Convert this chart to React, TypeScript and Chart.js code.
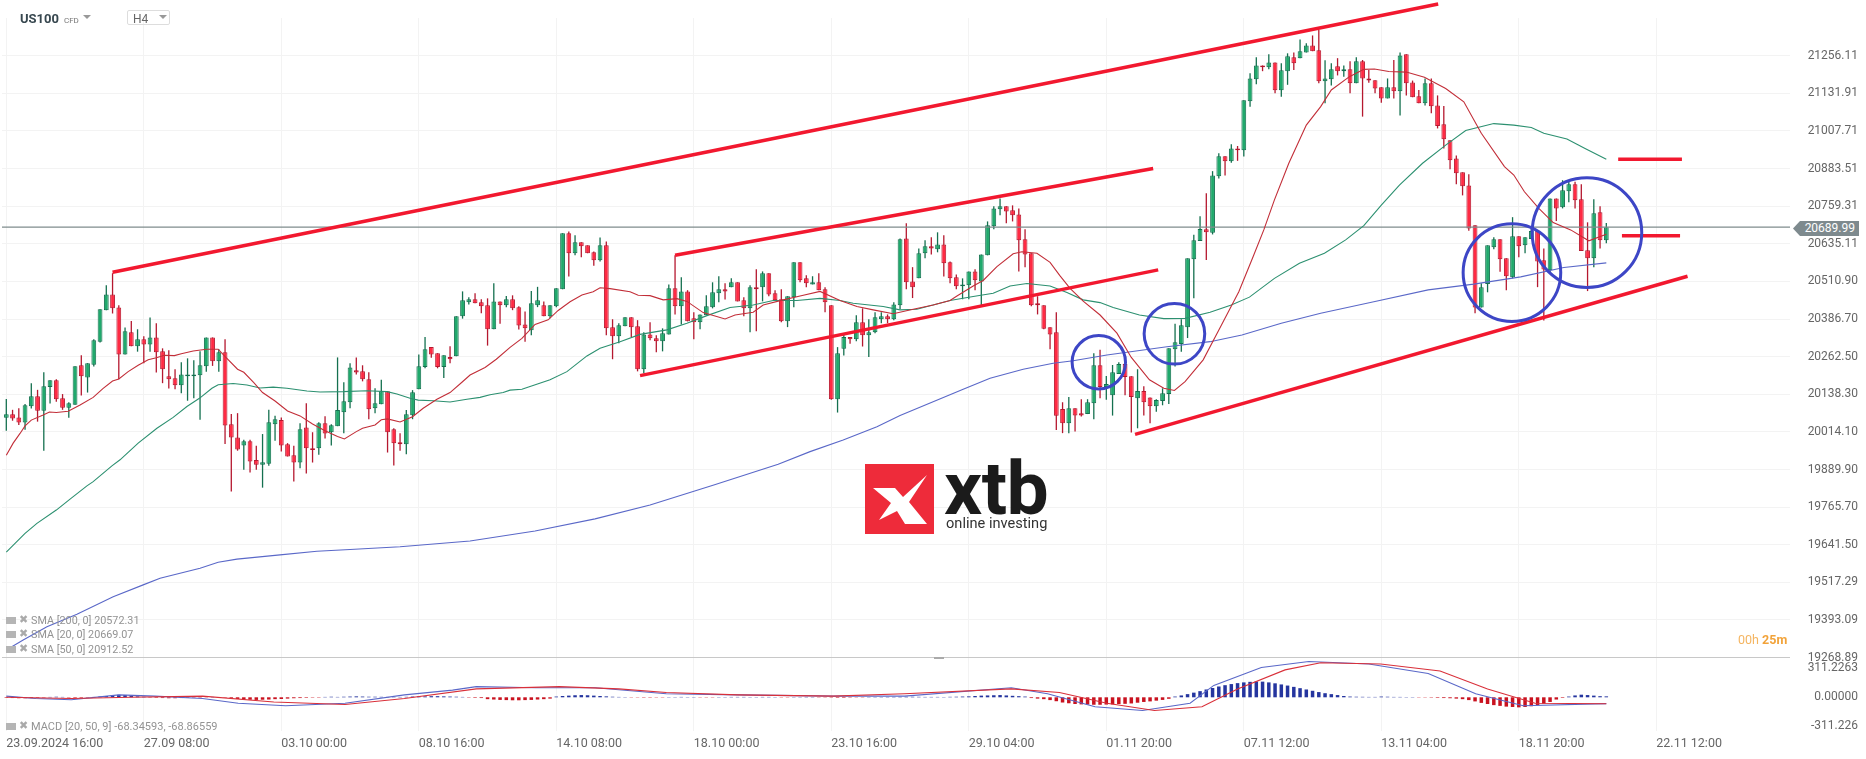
import { useEffect, useRef } from "react"
import Chart from "chart.js/auto"

// OHLC per 4h candle
const candleOpen = [
  20061,20072,20062,20045,20099,20132,20084,20162,20185,20125,20094,20104,20234,20194,20236,20312,20416,20468,20425,20270,
  20343,20297,20320,20303,20326,20280,20198,20191,20168,20198,20198,20201,20231,20326,20247,20277,20039,19996,19969,19983,
  19921,19906,19909,20039,20053,19973,19937,19913,20029,19960,19960,20043,20013,20033,20079,20112,20218,20214,20188,20092,
  20105,20148,20023,19980,19973,20069,20155,20228,20294,20274,20228,20261,20264,20396,20442,20452,20442,20432,20353,20445,
  20432,20452,20426,20369,20350,20432,20432,20396,20429,20485,20670,20604,20640,20630,20607,20581,20630,20360,20330,20363,
  20393,20363,20221,20336,20323,20313,20336,20488,20429,20478,20389,20376,20399,20426,20472,20485,20492,20508,20449,20422,
  20492,20492,20538,20472,20452,20379,20459,20574,20521,20501,20508,20485,20432,20122,20289,20327,20320,20376,20333,20343,
  20386,20396,20386,20432,20653,20511,20521,20604,20627,20617,20633,20574,20525,20495,20498,20544,20511,20597,20693,20749,
  20759,20746,20732,20650,20604,20439,20432,20360,20343,20090,20043,20092,20076,20073,20109,20234,20162,20135,20205,20238,
  20198,20125,20149,20128,20099,20116,20139,20287,20304,20360,20584,20644,20683,20672,20858,20924,20908,20950,20944,21106,
  21178,21224,21218,21234,21142,21205,21251,21248,21267,21290,21274,21172,21178,21221,21205,21211,21165,21238,21181,21175,
  21152,21115,21152,21139,21261,21168,21122,21099,21165,21092,21030,20977,20917,20871,20828,20696,20425,20502,20624,20650,
  20587,20525,20660,20630,20651,20677,20581,20548,20785,20756,20809,20832,20782,20614,20587,20739,20647,
]
const candleHigh = [
  20123,20087,20092,20106,20175,20153,20211,20185,20188,20139,20112,20231,20267,20241,20320,20419,20498,20538,20432,20359,
  20380,20353,20330,20392,20373,20290,20284,20221,20244,20257,20251,20280,20326,20326,20287,20320,20073,20076,19988,19988,
  19968,20007,20087,20067,20062,19977,19968,20043,20109,20013,20046,20066,20039,20260,20178,20241,20260,20234,20211,20158,
  20186,20148,20026,20010,20086,20152,20270,20327,20294,20274,20267,20297,20396,20478,20459,20472,20452,20455,20505,20445,
  20463,20465,20429,20412,20479,20493,20445,20432,20488,20670,20676,20663,20640,20630,20610,20656,20643,20386,20373,20393,
  20393,20383,20343,20376,20333,20356,20501,20597,20525,20482,20409,20402,20465,20508,20528,20505,20521,20508,20459,20498,
  20551,20544,20538,20482,20485,20462,20574,20574,20531,20528,20538,20492,20432,20294,20336,20327,20399,20422,20386,20409,
  20409,20402,20442,20653,20703,20558,20620,20647,20657,20673,20663,20577,20534,20521,20544,20551,20600,20709,20759,20785,
  20759,20762,20752,20683,20604,20462,20432,20360,20409,20112,20129,20092,20122,20122,20274,20285,20199,20235,20244,20238,
  20198,20221,20165,20128,20122,20158,20290,20371,20386,20587,20665,20726,20802,20875,20934,20924,20964,20958,21109,21198,
  21251,21224,21261,21234,21231,21264,21267,21310,21297,21323,21341,21241,21231,21248,21224,21238,21251,21242,21209,21175,
  21152,21181,21242,21267,21261,21174,21143,21181,21181,21125,21090,20977,20927,20871,20865,20696,20505,20630,20657,20650,
  20587,20723,20660,20657,20686,20677,20620,20785,20785,20845,20845,20840,20832,20706,20782,20759,20704,
]
const candleLow = [
  20018,20051,20037,20021,20091,20048,19952,20108,20114,20087,20061,20104,20134,20144,20230,20309,20416,20405,20188,20270,
  20297,20279,20241,20279,20210,20175,20157,20155,20142,20117,20125,20054,20213,20232,20213,19974,19817,19952,19889,19880,
  19889,19830,19902,19985,19949,19933,19850,19894,19877,19913,19939,19992,19969,20033,20010,20092,20204,20181,20056,20076,
  20105,19946,19903,19952,19940,20056,20155,20224,20259,20224,20192,20241,20264,20388,20435,20439,20406,20299,20353,20371,
  20426,20416,20352,20312,20333,20426,20396,20389,20426,20485,20527,20597,20591,20604,20563,20577,20333,20254,20307,20363,
  20327,20214,20208,20317,20277,20280,20336,20402,20369,20379,20320,20353,20399,20422,20442,20451,20492,20445,20396,20343,
  20346,20445,20462,20449,20376,20360,20426,20508,20492,20501,20482,20409,20120,20078,20266,20305,20313,20296,20261,20340,
  20373,20373,20383,20419,20485,20456,20521,20587,20600,20607,20527,20505,20485,20452,20452,20482,20432,20597,20683,20729,
  20703,20709,20544,20558,20429,20402,20353,20287,20020,20010,20010,20015,20065,20073,20056,20125,20120,20068,20205,20135,
  20012,20026,20068,20043,20081,20102,20106,20230,20279,20324,20455,20644,20582,20666,20851,20861,20903,20909,20923,21088,
  21162,21205,21211,21132,21121,21160,21209,21248,21267,21271,21165,21099,21158,21191,21187,21132,21165,21055,21167,21132,
  21101,21115,21115,21059,21125,21119,21099,21092,21066,21016,20950,20881,20832,20795,20678,20406,20425,20475,20617,20543,
  20482,20521,20591,20604,20651,20492,20382,20541,20710,20752,20772,20752,20611,20479,20558,20620,20637,
]
const candleClose = [
  20072,20058,20045,20102,20132,20084,20165,20185,20122,20094,20109,20231,20198,20241,20317,20419,20468,20422,20270,20346,
  20297,20320,20303,20326,20277,20221,20188,20168,20204,20204,20204,20234,20326,20247,20277,20035,19996,19956,19983,19916,
  19906,19914,20046,20056,19969,19933,19913,20023,19960,19954,20043,20009,20036,20086,20115,20227,20210,20188,20089,20109,
  20148,20013,19977,19973,20072,20145,20231,20287,20270,20228,20267,20254,20396,20449,20452,20439,20429,20353,20445,20432,
  20452,20422,20365,20356,20439,20449,20396,20432,20488,20670,20604,20640,20627,20604,20581,20630,20356,20330,20366,20393,
  20360,20221,20336,20323,20313,20340,20488,20429,20478,20379,20376,20402,20429,20475,20485,20478,20508,20445,20422,20492,
  20485,20538,20468,20449,20379,20462,20574,20515,20505,20508,20482,20442,20122,20274,20327,20320,20376,20333,20343,20393,
  20396,20386,20435,20650,20508,20492,20604,20627,20620,20633,20571,20521,20495,20501,20544,20515,20600,20696,20752,20759,
  20742,20729,20647,20600,20432,20432,20355,20336,20067,20043,20092,20068,20068,20112,20234,20162,20172,20211,20238,20195,
  20129,20149,20112,20099,20119,20142,20290,20310,20366,20587,20647,20684,20673,20861,20924,20908,20950,20944,21109,21181,
  21224,21218,21234,21142,21208,21254,21231,21271,21290,21271,21172,21181,21211,21205,21211,21165,21238,21181,21174,21148,
  21115,21152,21139,21257,21165,21119,21099,21165,21089,21024,20980,20911,20868,20825,20686,20425,20492,20630,20650,20584,
  20528,20660,20627,20657,20677,20577,20550,20785,20752,20812,20832,20779,20611,20587,20736,20647,20690,
]

// moving averages, read at sampled candle positions
const sma20Pos = [
  0,1.1,2.2,3,4,5.9,6.9,8,9.9,11.8,13.9,15.5,17,18,19.5,21.1,22.7,24,25.3,26.9,28,29.9,32,33.9,34.9,37,38,39.6,41,43,45,47,49,51,53,54.1,56,57,59,60,61,63,65,66.7,68.9,71,72.9,74.2,76.6,78.4,80.6,82.5,
  84.6,86.7,88.3,90.2,92.1,93.9,95,96.6,99.8,101.1,103,105.1,107.3,108.9,111.5,115,116.6,119.5,121.1,124.3,127,130.2,133.4,
  136.1,138.7,141.9,145.1,148.3,151,152.1,154.7,156.3,158.5,161.1,162.5,164.9,167,168.6,170.2,172.3,175,177.7,180,
  182.9,185.2,186.9,188.6,191.5,194.3,197.2,199.5,201.2,202.9,205.2,208,210.3,212,214.9,217.2,218.9,221.2,224,226.9,230.3,233.2,236,239.7,241.2,242.9,245.2,247.5,250.3,253.2,256,
]
const sma20Values = [
  19937,19977,20009,20034,20053,20070,20080,20078,20082,20103,20128,20158,20182,20189,20213,20234,20252,20259,20267,20266,20272,20281,20287,20287,20265,20221,20211,20177,20144,20116,20083,20067,20040,20018,19999,19991,20015,20026,20037,20054,20057,20047,20064,20092,20122,20144,20178,20202,20227,20254,20293,20323,
  20369,20384,20415,20444,20466,20477,20490,20487,20477,20465,20464,20450,20454,20445,20408,20387,20400,20409,20433,20450,20463,20478,20448,
  20428,20417,20404,20419,20433,20448,20463,20496,20514,20560,20602,20609,20604,20574,20529,20488,20446,20400,20340,20260,
  20186,20158,20151,20180,20252,20362,20477,20593,20681,20780,20901,21027,21088,21143,21187,21211,21212,21204,21202,21185,21148,21104,21000,20890,20862,20807,20752,20705,20681,20645,20667,
]
const sma50Pos = [
  0,3,4.9,8,10.2,12.9,13.9,16.9,18.2,21.1,24.1,26.7,28.9,30.9,32.9,33.9,36.3,38.5,40.6,42.7,44.9,48.1,50.2,53.9,57.7,60.9,62.5,64.6,65.9,68.3,71,73.7,75.8,77.4,79.5,80.6,82.5,
  87,89.7,92.9,95,98.2,101.4,105.7,108.9,112.1,115.8,119.5,122.7,126.5,130.2,133.4,135.5,140.3,143,145.7,151,154.7,157.9,160.6,163.3,167,169.7,172.3,175,177.1,181.3,
  185.2,188.6,192.6,196,198.9,202.9,206.9,210.9,214.3,217.2,220,222.9,226.6,230.3,233.5,238,241.2,244,246,249.7,252.6,256,
]
const sma50Values = [
  19617,19679,19712,19756,19792,19836,19850,19902,19922,19977,20026,20062,20098,20125,20158,20170,20174,20169,20159,20162,20158,20149,20146,20147,20150,20147,20139,20125,20119,20117,20113,20122,20128,20137,20144,20152,20155,
  20186,20213,20265,20290,20312,20336,20351,20373,20398,20425,20433,20448,20448,20455,20448,20439,20428,20417,20419,20448,20461,20472,20496,20504,20496,20474,20450,20441,20425,20400,
  20388,20389,20409,20433,20459,20521,20571,20604,20648,20695,20763,20829,20901,20961,21009,21032,21027,21019,21000,20981,20950,20914,
]
const sma200Pos = [
  0,2.7,6.5,11.3,17.1,21.9,24.6,31,33.9,36.9,43.8,49.7,55,63,74.2,84.6,94.2,103,113.2,123.5,128.6,133.9,139.3,143,153.1,157.4,162.7,167.5,170.7,176.1,185.7,192.6,197.7,204,210.3,218.8,227.5,234.8,242.3,249.2,256,
]
const sma200Values = [
  19294,19327,19371,19412,19470,19509,19531,19564,19584,19594,19608,19620,19626,19635,19654,19687,19727,19773,19839,19907,19949,19987,20031,20068,20155,20191,20221,20241,20249,20268,20295,20312,20334,20373,20406,20444,20483,20502,20526,20557,20572,
]

// MACD pane
const macdHist = [
  -6,-8,-10,-10,-8,-6,-4,4,6,4,-4,-6,-6,-4,4,8,
  14,22,26,24,18,10,6,
  -4,-6,-8,-10,-10,-8,-6,-4,-4,-3,4,3,-4,
  -14,-18,-22,-26,-28,-26,-24,-20,-18,-14,-10,-8,-6,-4,-4,
  4,6,4,6,8,10,8,6,6,5,4,4,4,5,8,10,10,12,12,10,8,6,4,-4,-6,-8,
  -20,-24,-28,-30,-32,-32,-30,-28,-24,-20,-14,
  8,14,18,22,24,22,18,14,10,6,
  4,3,-3,-3,-4,-4,-3,-3,3,3,4,3,3,-3,-3,-3,3,3,4,4,
  4,3,3,4,4,3,-3,-3,3,3,4,3,-3,-3,-4,-6,-6,-4,-3,-3,3,3,3,
  4,4,5,6,6,5,4,4,4,3,
  5,6,8,10,14,18,20,22,24,20,16,12,8,
  -8,-14,-20,-30,-42,-56,-64,-72,-76,-78,-80,-80,-78,-76,-72,-70,-66,
  -58,-50,-44,-36,-28,-16,8,20,
  34,50,66,84,100,116,130,142,152,160,166,170,168,160,150,
  138,126,112,98,84,70,56,44,34,24,14,8,6,5,4,4,
  8,6,4,4,3,3,-3,-3,-4,-6,-8,-10,-14,-20,-30,-44,-60,
  -72,-84,-92,-100,-104,-108,-104,-96,-84,-68,-50,
  -24,-6,8,20,28,24,18,12,10,
]
const macdPos = [0,4.7,10.4,18,23.8,31.4,37.1,44.7,54.2,63.7,71.4,75.2,84.7,94.2,105.6,117,132.3,143.7,160.8,166.6,174.2,181.8,189.4,193.2,200.8,208.4,218,227.5,235.1,242.7,256]
const macdValues = [13,-13,-26,26,13,-13,-64,-90,-64,26,77,115,102,102,38,26,13,13,102,38,-102,-141,-64,128,320,384,358,256,38,-90,-68]
const signalPos = [0,10.4,19.9,31.4,42.8,54.2,63.7,75.2,88.5,98,105.6,117,132.3,143.7,160.8,168.5,176.1,183.7,191.3,197,204.6,210.3,219.9,229.4,237,244.6,256]
const signalValues = [0,-13,0,13,-51,-77,-13,90,115,90,51,26,13,38,90,51,-64,-141,-102,90,294,371,358,282,90,-64,-69]

// hand drawn trend lines and the two target dashes
const segmentStartX = [17, 107, 101.4, 180.6, 257.9, 258.5]
const segmentStartY = [20541, 20597, 20200, 20006, 20914, 20662]
const segmentEndX = [229.1, 183.5, 184.3, 269, 268.1, 267.8]
const segmentEndY = [21427, 20884, 20549, 20528, 20914, 20662]

const circleX = [174.8, 186.9, 240.9, 252.9]
const circleY = [20244, 20338, 20540, 20672]
const circleRadius = [26.7, 30.3, 48.8, 54.8]

const lastPrice = 20689.99
const priceTicks = [21256.11,21131.91,21007.71,20883.51,20759.31,20635.11,20510.9,20386.7,20262.5,20138.3,20014.1,19889.9,19765.7,19641.5,19517.29,19393.09,19268.89]
const macdTicks = [311.2263, 0, -311.226]
const macdTickLabels = ["311.2263", "0.00000", "-311.226"]
const timeLabels = ["23.09.2024 16:00","27.09 08:00","03.10 00:00","08.10 16:00","14.10 08:00","18.10 00:00","23.10 16:00","29.10 04:00","01.11 20:00","07.11 12:00","13.11 04:00","18.11 20:00","22.11 12:00"]
const candlesPerLabel = 22

const indicatorLegend = ["SMA [200, 0] 20572.31", "SMA [20, 0] 20669.07", "SMA [50, 0] 20912.52"]

const GREEN = "#20a96c"
const GREEN_DARK = "#14704f"
const RED = "#ff2a43"
const RED_DARK = "#b5182f"

const font = "Roboto, sans-serif"

function points(xs: number[], ys: number[]) {
  return xs.map((x, i) => ({ x, y: ys[i] }))
}

// the scales would otherwise ask the layout for room around their labels
function noPadding(scale: any) {
  scale.paddingLeft = 0
  scale.paddingRight = 0
  scale.paddingTop = 0
  scale.paddingBottom = 0
}

export default function App() {
  const chartRef = useRef<HTMLCanvasElement>(null)

  useEffect(() => {
    if (!chartRef.current) return
    const up = (i: number) => candleClose[i] >= candleOpen[i]

    const segments = segmentStartX.map((x, i) => ({
      type: "line" as const,
      data: [
        { x, y: segmentStartY[i] },
        { x: segmentEndX[i], y: segmentEndY[i] },
      ],
      yAxisID: "y",
      borderColor: "#f2182f",
      borderWidth: 3.5,
      pointRadius: 0,
      clip: false as const,
      order: 2,
    }))

    const line = (data: { x: number; y: number }[], color: string, yAxisID: string, order: number) => ({
      type: "line" as const,
      data,
      yAxisID,
      borderColor: color,
      borderWidth: 1.1,
      pointRadius: 0,
      tension: 0,
      order,
    })

    const chart = new Chart(chartRef.current, {
      type: "bar",
      data: {
        datasets: [
          {
            data: candleHigh.map((h, i) => ({ x: i, y: [candleLow[i], h] })),
            yAxisID: "y",
            backgroundColor: candleHigh.map((_, i) => (up(i) ? GREEN_DARK : RED_DARK)),
            grouped: false,
            barPercentage: 1,
            maxBarThickness: 1.3,
            inflateAmount: 0,
            order: 12,
          },
          {
            data: candleOpen.map((o, i) => ({ x: i, y: [o, candleClose[i]] })),
            yAxisID: "y",
            backgroundColor: candleOpen.map((_, i) => (up(i) ? GREEN : RED)),
            borderColor: candleOpen.map((_, i) => (up(i) ? GREEN_DARK : RED_DARK)),
            borderWidth: 1,
            borderSkipped: false,
            grouped: false,
            barPercentage: 1,
            maxBarThickness: 4.8,
            inflateAmount: 0,
            order: 11,
          },
          {
            data: macdHist.map((v, i) => ({ x: i, y: [0, v] })),
            yAxisID: "y2",
            backgroundColor: macdHist.map((v) => (v >= 0 ? "#25359f" : "#c9121f")),
            grouped: false,
            barPercentage: 1,
            maxBarThickness: 3.5,
            inflateAmount: 0,
            order: 10,
          },
          {
            type: "line",
            data: [
              { x: -0.688, y: lastPrice },
              { x: 285.39, y: lastPrice },
            ],
            yAxisID: "y",
            borderColor: "#7f8c8d",
            borderWidth: 1.3,
            pointRadius: 0,
            order: 8,
          },
          line(points(sma200Pos, sma200Values), "#5a68c8", "y", 6),
          line(points(sma50Pos, sma50Values), "#2c9070", "y", 5),
          line(points(sma20Pos, sma20Values), "#c22e38", "y", 4),
          line(points(macdPos, macdValues), "#5a68c8", "y2", 6),
          line(points(signalPos, signalValues), "#d9303a", "y2", 5),
          ...segments,
          {
            type: "scatter",
            data: points(circleX, circleY),
            yAxisID: "y",
            showLine: false,
            pointRadius: circleRadius,
            pointBorderWidth: 3,
            pointBorderColor: "#3d46c6",
            pointBackgroundColor: "rgba(0,0,0,0)",
            order: 1,
          },
        ] as any,
      },
      options: {
        responsive: false,
        animation: false,
        events: [],
        // autoPadding would reserve room for the big circle markers
        layout: { autoPadding: false, padding: { top: 18, left: 2, right: 8, bottom: 0 } },
        plugins: { legend: { display: false }, tooltip: { enabled: false } },
        scales: {
          x: {
            type: "linear",
            offset: false,
            min: -0.688,
            max: 285.39,
            afterBuildTicks: (scale: any) => {
              scale.ticks = timeLabels.map((_, i) => ({ value: i * candlesPerLabel }))
            },
            afterFit: (scale: any) => {
              scale.height = 28
              noPadding(scale)
            },
            ticks: {
              align: "start",
              autoSkip: false,
              maxRotation: 0,
              padding: 5,
              color: "#666",
              font: { family: font, size: 12.5 },
              callback: (v: any) => timeLabels[Math.round(v / candlesPerLabel)],
            },
            grid: { color: "#f3f3f3", drawTicks: false, offset: false },
            border: { display: false },
          },
          y: {
            position: "right",
            min: 19026.6,
            max: 21380.6,
            afterBuildTicks: (scale: any) => {
              scale.ticks = priceTicks.map((value) => ({ value }))
            },
            afterFit: (scale: any) => {
              scale.width = 68
              noPadding(scale)
            },
            ticks: {
              autoSkip: false,
              crossAlign: "far",
              padding: 0,
              color: "#666",
              font: { family: font, size: 12 },
              callback: (v: any) => Number(v).toFixed(2),
            },
            grid: {
              drawTicks: false,
              color: (ctx: any) => (ctx.tick && ctx.tick.value < 19300 ? "#c8c8c8" : "#f3f3f3"),
            },
            border: { display: false },
          },
          y2: {
            position: "right",
            weight: 1,
            min: -361.6,
            max: 7289,
            afterBuildTicks: (scale: any) => {
              scale.ticks = macdTicks.map((value) => ({ value }))
            },
            afterFit: (scale: any) => {
              scale.width = 0
              noPadding(scale)
            },
            ticks: {
              autoSkip: false,
              mirror: true,
              padding: 0,
              color: "#666",
              font: { family: font, size: 12 },
              callback: (_: any, i: number) => macdTickLabels[i],
            },
            grid: { display: false },
            border: { display: false },
          },
        },
      },
    })

    return () => chart.destroy()
  }, [])

  const gray = "#939393"
  const abs = (left: number, top: number): React.CSSProperties => ({
    position: "absolute",
    left,
    top,
    fontFamily: font,
    whiteSpace: "nowrap",
  })

  return (
    <div style={{ position: "absolute", left: 0, top: 0, width: 1866, height: 759, background: "#fff", overflow: "hidden" }}>
      <canvas ref={chartRef} width={1866} height={759} style={{ display: "block" }} />

      <div style={{ ...abs(20, 11), fontSize: 13, fontWeight: 700, color: "#37474f" }}>
        US100
        <span style={{ fontSize: 8, fontWeight: 400, color: "#777", marginLeft: 5 }}>CFD</span>
      </div>
      <div style={{ ...abs(83, 15), width: 0, height: 0, borderLeft: "4px solid transparent", borderRight: "4px solid transparent", borderTop: "4px solid #999" }} />
      <div style={{ ...abs(127, 10), width: 43, height: 15, border: "1px solid #ddd", borderRadius: 2, boxSizing: "border-box" }} />
      <div style={{ ...abs(133, 12), fontSize: 12, color: "#666" }}>H4</div>
      <div style={{ ...abs(159, 15), width: 0, height: 0, borderLeft: "4px solid transparent", borderRight: "4px solid transparent", borderTop: "4px solid #999" }} />

      <div style={{ ...abs(1793, 221), width: 66, height: 15, boxSizing: "border-box", paddingRight: 4, background: "#7e8a8e", clipPath: "polygon(7px 0, 100% 0, 100% 100%, 7px 100%, 0 50%)", color: "#fff", fontSize: 12, lineHeight: "15px", textAlign: "right" }}>
        {lastPrice.toFixed(2)}
      </div>

      {indicatorLegend.map((text, i) => (
        <div key={text}>
          <div style={{ ...abs(6, 617 + i * 14.3), width: 10, height: 7, background: "#b5b5b5" }} />
          <div style={{ ...abs(19, 613 + i * 14.3), fontSize: 11, color: "#aaa" }}>✖</div>
          <div style={{ ...abs(31, 614 + i * 14.3), fontSize: 10.8, color: gray }}>{text}</div>
        </div>
      ))}
      <div style={{ ...abs(6, 723), width: 10, height: 7, background: "#b5b5b5" }} />
      <div style={{ ...abs(19, 719), fontSize: 11, color: "#aaa" }}>✖</div>
      <div style={{ ...abs(31, 720), fontSize: 11, color: gray }}>MACD [20, 50, 9] -68.34593, -68.86559</div>

      <div style={{ ...abs(1738, 632), fontSize: 12.5, color: "#f2a33a" }}>
        <span style={{ opacity: 0.8 }}>00h</span> <b>25m</b>
      </div>
      <div style={{ ...abs(934, 657), width: 10, height: 2, background: "#aaa" }} />

      <svg style={{ position: "absolute", left: 865, top: 464 }} width={69} height={70} viewBox="0 0 69 70">
        <rect width={69} height={70} fill="#ee2b3a" />
        <path d="M8 24 L30 24 L38 33 L62 11 L44 38 L62 60 L40 60 L32 47 L14 56 L26 39 Z" fill="#fff" />
      </svg>
      <div style={{ ...abs(944, 451), fontSize: 75, fontWeight: 700, lineHeight: 1, color: "#1b1b1b", letterSpacing: -0.5 }}>xtb</div>
      <div style={{ ...abs(946, 514), fontSize: 14.6, lineHeight: "18px", color: "#333" }}>online investing</div>
    </div>
  )
}
